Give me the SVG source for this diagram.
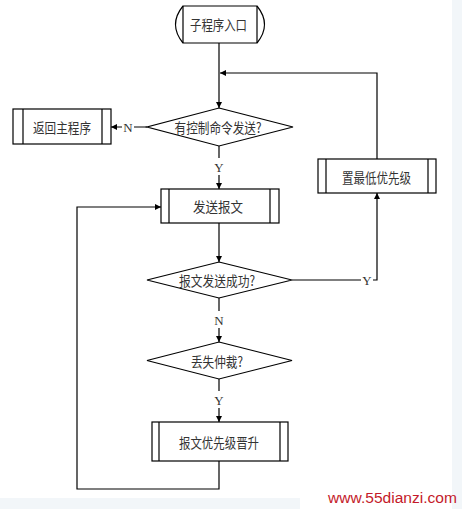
<svg xmlns="http://www.w3.org/2000/svg" width="462" height="509" viewBox="0 0 462 509">
<style>
.shape{fill:#ffffff;stroke:#000000;stroke-width:1.2}
.inner{stroke:#000000;stroke-width:1.2;fill:none}
.wire{fill:none;stroke:#000000;stroke-width:1.2}
.t{font-family:"Noto Sans CJK SC","Noto Sans CJK JP",sans-serif;font-size:14px;fill:#333333;text-anchor:middle;dominant-baseline:central}
.lbl{font-family:"Liberation Serif",serif;font-size:13px;fill:#333333;text-anchor:middle;dominant-baseline:central}
.wm{font-family:"Liberation Sans",Arial,sans-serif;font-size:15.5px;fill:#c41a2a}
</style>
<defs>
<marker id="arr" viewBox="0 0 8 8" refX="8" refY="4" markerWidth="7" markerHeight="6" markerUnits="userSpaceOnUse" orient="auto">
<path d="M0,0 L8,4 L0,8 Z" fill="#000000"/>
</marker>
</defs>
<rect x="0" y="0" width="462" height="509" fill="#ffffff"/>
<rect x="452" y="0" width="10" height="509" fill="#f2f6f9"/>
<rect x="0" y="498" width="300" height="11" fill="#f2f6f9"/>

<g id="connectors">
<path class="wire" d="M219,43 V108" marker-end="url(#arr)"/>
<path class="wire" d="M377,159 V73 H220" marker-end="url(#arr)"/>
<path class="wire" d="M147,127 H111" marker-end="url(#arr)"/>
<path class="wire" d="M219,146 V189" marker-end="url(#arr)"/>
<path class="wire" d="M219,223 V262" marker-end="url(#arr)"/>
<path class="wire" d="M292,280 H377 V193" marker-end="url(#arr)"/>
<path class="wire" d="M219,298 V342" marker-end="url(#arr)"/>
<path class="wire" d="M219,379 V422" marker-end="url(#arr)"/>
<path class="wire" d="M219,461 V489 H77 V207 H161" marker-end="url(#arr)"/>
<rect x="122" y="120" width="12" height="14" fill="#ffffff"/>
<text class="lbl" x="128" y="127">N</text>
<rect x="213" y="158" width="12" height="17" fill="#ffffff"/>
<text class="lbl" x="219" y="167">Y</text>
<rect x="361" y="273" width="12" height="14" fill="#ffffff"/>
<text class="lbl" x="367" y="280">Y</text>
<rect x="213" y="311" width="12" height="17" fill="#ffffff"/>
<text class="lbl" x="219" y="320">N</text>
<rect x="213" y="391" width="12" height="17" fill="#ffffff"/>
<text class="lbl" x="219" y="400">Y</text>
</g>

<g id="start">
<path class="shape" d="M183,6 H257 Q272,24.5 257,43 H183 Q168,24.5 183,6 Z"/>
<path class="inner" d="M183,6 V43 M257,6 V43"/>
<text class="t" x="218.5" y="24" textLength="57" lengthAdjust="spacingAndGlyphs">子程序入口</text>
</g>

<g id="decision-control">
<path class="shape" d="M219,108 L293,127 L219,146 L147,127 Z"/>
<text class="t" x="218" y="127" textLength="87" lengthAdjust="spacingAndGlyphs">有控制命令发送?</text>
</g>

<g id="return-main">
<rect class="shape" x="13" y="109" width="98" height="35"/>
<path class="inner" d="M23,109 V144 M102,109 V144"/>
<text class="t" x="62" y="127" textLength="58" lengthAdjust="spacingAndGlyphs">返回主程序</text>
</g>

<g id="send-msg">
<rect class="shape" x="161" y="189" width="118" height="34"/>
<path class="inner" d="M169,189 V223 M270,189 V223"/>
<text class="t" x="218" y="206" textLength="50" lengthAdjust="spacingAndGlyphs">发送报文</text>
</g>

<g id="set-lowest">
<rect class="shape" x="318" y="159" width="118" height="34"/>
<path class="inner" d="M326,159 V193 M428,159 V193"/>
<text class="t" x="376.5" y="176.5" textLength="69" lengthAdjust="spacingAndGlyphs">置最低优先级</text>
</g>

<g id="decision-success">
<path class="shape" d="M219,262 L292,280 L219,298 L147,280 Z"/>
<text class="t" x="217" y="280" textLength="76" lengthAdjust="spacingAndGlyphs">报文发送成功?</text>
</g>

<g id="decision-arbitration">
<path class="shape" d="M219,342 L292,360.5 L219,379 L147,360.5 Z"/>
<text class="t" x="217" y="361" textLength="52" lengthAdjust="spacingAndGlyphs">丢失仲裁?</text>
</g>

<g id="raise-priority">
<rect class="shape" x="152" y="422" width="136" height="39"/>
<path class="inner" d="M159,422 V461 M280,422 V461"/>
<text class="t" x="219" y="441.5" textLength="80" lengthAdjust="spacingAndGlyphs">报文优先级晋升</text>
</g>

<text class="wm" x="328" y="503" textLength="129" lengthAdjust="spacingAndGlyphs">www.55dianzi.com</text>
</svg>
